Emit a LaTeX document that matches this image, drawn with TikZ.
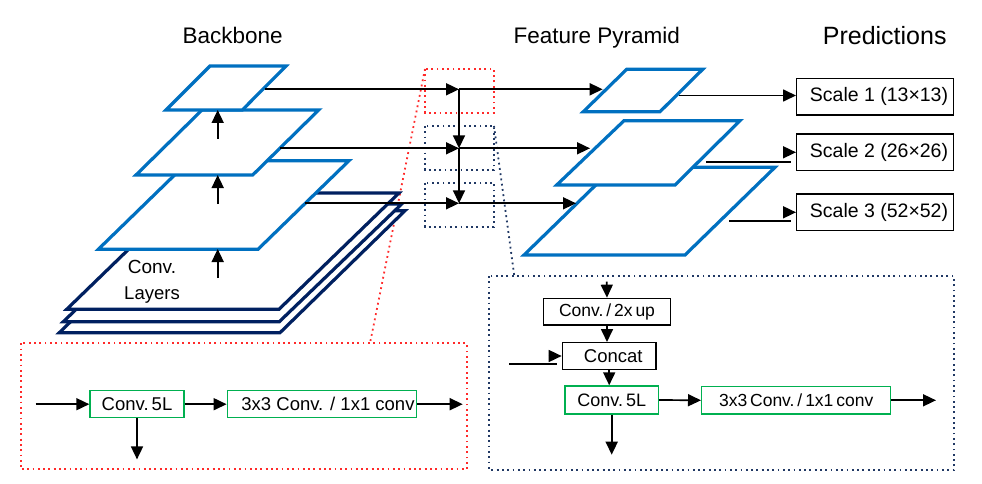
\documentclass[tikz,border=0pt]{standalone}
\usepackage{fontspec}
\setmainfont{Liberation Sans}
\usetikzlibrary{arrows.meta,calc}
\definecolor{lblue}{HTML}{0070C0}
\definecolor{navy}{HTML}{002060}
\definecolor{grn}{HTML}{00B050}
\definecolor{rdot}{HTML}{FF2A2A}
\definecolor{bdot}{HTML}{203864}
\newcommand{\myfs}[1]{\fontsize{#1}{#1}\selectfont}
\begin{document}
\begin{tikzpicture}[x=1pt,y=-1pt,
  arr/.style={line width=1.7pt,-{Triangle[length=13pt,width=12pt]}},
  ln/.style={line width=1.7pt},
  blayer/.style={draw=lblue,line width=3.2pt,fill=white},
  dlayer/.style={draw=navy,line width=3.2pt,fill=white},
  bbox/.style={draw=black,line width=1.4pt,fill=white,inner sep=0pt},
  gbox/.style={draw=grn,line width=1.4pt,fill=white,inner sep=0pt},
  reddot/.style={draw=rdot,line width=1.8pt,dash pattern=on 1.8pt off 3.5pt},
  bluedot/.style={draw=bdot,line width=1.8pt,dash pattern=on 1.8pt off 3.5pt},
  title/.style={anchor=base,inner sep=0pt},
]
\useasboundingbox (0,0) rectangle (982,484);

% titles
\node[title,font=\myfs{22.5}] (tbb) at (232.7,43.3) {Backbone};
\node[title,font=\myfs{22.5}] (tfp) at (596.7,43.3) {Feature Pyramid};
\node[title,font=\myfs{25}] (tpr) at (884.7,44.3) {Predictions};

% dotted zoom boxes and guide lines
\draw[reddot] (425,69) rectangle (494,112.7);
\draw[bluedot] (425,126) rectangle (494,170);
\draw[bluedot] (425,182.7) rectangle (494,226.7);
\draw[reddot] (20.7,343.3) rectangle (466.7,469.3);
\draw[bluedot] (489.3,276) rectangle (954,470);
\draw[reddot] (425,69) -- (370,343.3);
\draw[bluedot] (494,126) -- (514.3,276);

% backbone dark conv layers
\draw[dlayer] (59.3,332.7) -- (280,332.7) -- (405,210.7) -- (184.3,210.7) -- cycle;
\draw[dlayer] (63.3,321.7) -- (279.3,321.7) -- (401.7,204) -- (185.7,204) -- cycle;
\draw[dlayer] (66.7,309.3) -- (279,309.3) -- (399,193) -- (186.7,193) -- cycle;
% backbone blue layers
\draw[blayer] (98.3,249.3) -- (258,249.3) -- (349,160.7) -- (189.3,160.7) -- cycle;
\draw[blayer] (136,175) -- (252.7,175) -- (318.7,110) -- (202,110) -- cycle;
\draw[blayer] (166,110) -- (242.3,110) -- (286,66) -- (210,66) -- cycle;

\node[title,font=\myfs{19}] (tconv) at (152,273.3) {Conv.};
\node[title,font=\myfs{18.5}] (tlay) at (152,299.3) {Layers};

% up arrows
\coordinate (u1a) at (217.7,278); \coordinate (u1b) at (217.7,249);
\coordinate (u2a) at (217.7,204); \coordinate (u2b) at (217.7,175);
\coordinate (u3a) at (217.7,139); \coordinate (u3b) at (217.7,110);
\draw[arr] (u1a) -- (u1b);
\draw[arr] (u2a) -- (u2b);
\draw[arr] (u3a) -- (u3b);

% feature pyramid layers
\draw[blayer] (524,255) -- (685,255) -- (775,167.3) -- (614,167.3) -- cycle;
\draw[blayer] (556.7,185) -- (675,185) -- (740,120.7) -- (624,120.7) -- cycle;
\draw[blayer] (583.3,111.7) -- (660,111.7) -- (702.7,69.3) -- (626.7,69.3) -- cycle;

% lateral connections
\coordinate (b1) at (265,89.3);  \coordinate (j1) at (459,89.3);  \coordinate (p1) at (602.7,89.3);
\coordinate (b2) at (280,148.3); \coordinate (j2) at (459,148.3); \coordinate (p2) at (590,148.3);
\coordinate (b3) at (305,203.3); \coordinate (j3) at (459,203.3); \coordinate (p3) at (576,203.3);
\draw[arr] (b1) -- (j1);
\draw[arr] (b2) -- (j2);
\draw[arr] (b3) -- (j3);
\draw[arr] (j1) -- (j2);
\draw[arr] (j2) -- (j3);
\draw[arr] (j1) -- (p1);
\draw[arr] (j2) -- (p2);
\draw[arr] (j3) -- (p3);

% predictions
\node[bbox,minimum width=156.6pt,minimum height=36.7pt,font=\myfs{19.5}] (s1) at (875,96.7) {\hspace{8pt}Scale 1 (13×13)};
\node[bbox,minimum width=156.6pt,minimum height=36.7pt,font=\myfs{19.5}] (s2) at (875,152.3) {\hspace{8pt}Scale 2 (26×26)};
\node[bbox,minimum width=156.6pt,minimum height=36.7pt,font=\myfs{19.5}] (s3) at (875,212.3) {\hspace{8pt}Scale 3 (52×52)};
\coordinate (o1) at (679.3,95.5);
\coordinate (o2) at (706,161.7);
\coordinate (o3) at (729.3,220.7);
\draw[arr] (o1) -- (o1 -| s1.west);
\draw[ln] (o2) -- ($(o2 -| s2.west)+(-5,0)$);
\draw[arr] ($(s2.west)+(-13,0)$) -- (s2.west);
\draw[ln] (o3) -- ($(o3 -| s3.west)+(-5,0)$);
\draw[arr] ($(s3.west)+(-13,0)$) -- (s3.west);

% red detail box content
\node[gbox,minimum width=94pt,minimum height=27pt,font=\myfs{18.5}] (c5a) at (137,404.2) {Conv.\,5L};
\node[gbox,minimum width=189.4pt,minimum height=27pt,font=\myfs{18.5}] (t3a) at (322,404.2) {\hspace{12pt}3x3 Conv. / 1x1 conv};
\coordinate (ina) at (35.7,404.2);
\coordinate (outa) at (462.7,404.2);
\draw[arr] (ina) -- (c5a.west);
\draw[arr] (c5a.east) -- (t3a.west);
\draw[arr] (t3a.east) -- (outa);
\draw[arr] (c5a.south) -- ++(0,41);

% blue detail box content
\node[bbox,minimum width=127.4pt,minimum height=26.7pt,font=\myfs{17.5}] (up) at (607,311.7) {Conv.\,/\,2x\,up};
\node[bbox,minimum width=93.7pt,minimum height=26.6pt,font=\myfs{18.5}] (concat) at (609.2,356) {\hspace{8pt}Concat};
\node[gbox,minimum width=93.3pt,minimum height=28pt,font=\myfs{18}] (c5b) at (611.7,400) {Conv.\,5L};
\node[gbox,minimum width=189pt,minimum height=27.3pt,font=\myfs{17.5}] (t3b) at (796.2,400.3) {3x3\,Conv.\,/\,1x1\,conv};
\coordinate (inb) at (606.7,281.7);
\coordinate (lat) at (509.3,364.3);
\coordinate (outb) at (936,400.3);
\draw[arr] (inb) -- (up.north);
\draw[arr] (up.south) -- (up.south |- concat.north);
\draw[ln] (lat) -- ($(lat -| concat.west)+(-5,0)$);
\draw[arr] ($(concat.west)+(-13,0)$) -- (concat.west);
\draw[arr] (concat.south) -- (concat.south |- c5b.north);
\draw[arr] (c5b.east) -- (t3b.west);
\draw[arr] (t3b.east) -- (outb);
\draw[arr] (c5b.south) -- ++(0,40);
\end{tikzpicture}
\end{document}
